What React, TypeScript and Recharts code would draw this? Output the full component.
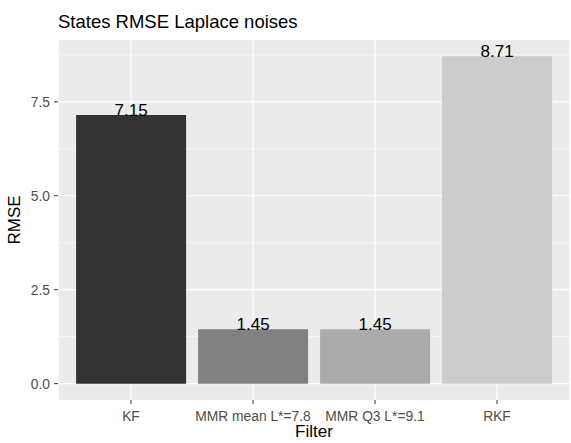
import { BarChart, Bar, XAxis, YAxis, CartesianGrid, Cell, LabelList } from 'recharts'

const categories = ['KF', 'MMR mean L*=7.8', 'MMR Q3 L*=9.1', 'RKF']
const rmse = [7.15, 1.45, 1.45, 8.71]
const yTicks = [0, 2.5, 5, 7.5]
const yMinor = [1.25, 3.75, 6.25, 8.75]

const FILLS = ['#333333', '#818181', '#ABABAB', '#CCCCCC']
const FONT = '"Liberation Sans", Arial, sans-serif'

const data = categories.map((name, i) => ({ name, rmse: rmse[i] }))

// ggplot-like 5% expansion around [0, max]
const maxV = Math.max(...rmse)
const yDomain = [-maxV * 0.05, maxV * 1.05]

function XTick({ x, y, payload }: any) {
  return (
    <text x={x} y={y} dy={15} textAnchor="middle" fill="#4D4D4D" fontSize={13.8} fontFamily={FONT}>
      {payload.value}
    </text>
  )
}

function YTick({ x, y, payload }: any) {
  return (
    <text x={x} y={y} dy={5} textAnchor="end" fill="#4D4D4D" fontSize={13.8} fontFamily={FONT}>
      {Number(payload.value).toFixed(1)}
    </text>
  )
}

function ValueLabel({ x, y, width, value }: any) {
  return (
    <text x={x + width / 2} y={y + 1} textAnchor="middle" fill="#000" fontSize={17} fontFamily={FONT}>
      {Number(value).toFixed(2)}
    </text>
  )
}

export default function App() {
  return (
    <div style={{ position: 'absolute', left: 0, top: 0, width: 571, height: 443, background: '#fff' }}>
      <BarChart
        width={571}
        height={443}
        data={data}
        margin={{ top: 40, right: 1, left: 0, bottom: 0 }}
        barCategoryGap="5%"
      >
        <CartesianGrid
          fill="#EBEBEB"
          stroke="#FFFFFF"
          strokeWidth={0.6}
          vertical={false}
          horizontalValues={yMinor}
        />
        <CartesianGrid
          stroke="#FFFFFF"
          strokeWidth={1.2}
          horizontalValues={yTicks}
        />
        <XAxis
          dataKey="name"
          type="category"
          height={43}
          padding={{ left: 12, right: 12 }}
          axisLine={false}
          tickLine={{ stroke: '#333333' }}
          tickSize={4}
          tickMargin={2}
          tick={<XTick />}
          interval={0}
        />
        <YAxis
          type="number"
          width={58}
          domain={yDomain}
          ticks={yTicks}
          axisLine={false}
          tickLine={{ stroke: '#333333' }}
          tickSize={4}
          tickMargin={4}
          tick={<YTick />}
        />
        <Bar dataKey="rmse" isAnimationActive={false}>
          {data.map((_, i) => (
            <Cell key={i} fill={FILLS[i]} />
          ))}
          <LabelList dataKey="rmse" content={<ValueLabel />} />
        </Bar>
      </BarChart>
      <svg width={571} height={443} style={{ position: 'absolute', left: 0, top: 0, pointerEvents: 'none' }}>
        <text x={58} y={28} fontSize={18.5} fontFamily={FONT} fill="#000">
          States RMSE Laplace noises
        </text>
        <text x={314} y={437} textAnchor="middle" fontSize={17} fontFamily={FONT} fill="#000">
          Filter
        </text>
        <text x={20} y={220} textAnchor="middle" fontSize={17} fontFamily={FONT} fill="#000" transform="rotate(-90, 20, 220)">
          RMSE
        </text>
      </svg>
    </div>
  )
}
